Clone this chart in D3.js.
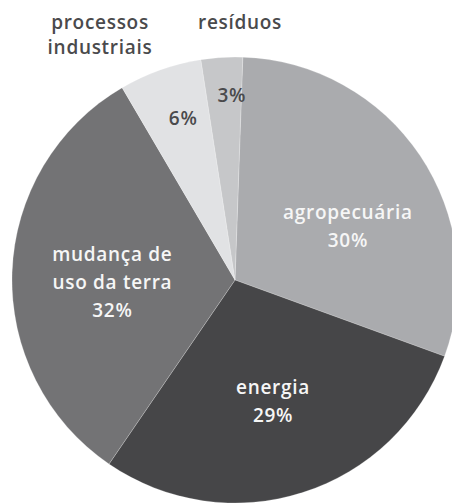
<!DOCTYPE html>
<html>
<head>
<meta charset="utf-8">
<script src="https://cdn.jsdelivr.net/npm/d3@7"></script>
<style>
  body { margin: 0; background: #fff; }
  svg text { font-family: "Open Sans", sans-serif; font-weight: 600; letter-spacing: 0.7px; }
</style>
</head>
<body>
<div id="chart"></div>
<script>
/**
 * DATA
 * */
const categories = ["agropecuária", "energia", "mudança de uso da terra", "processos industriais", "resíduos"];
const values = [30, 29, 32, 6, 3];
const colors = ["#aaabae", "#464648", "#737375", "#e1e2e4", "#c6c7c9"];
// inner label lines for each slice
const innerLabels = [
  ["agropecuária", "30%"],
  ["energia", "29%"],
  ["mudança de", "uso da terra", "32%"],
  ["6%"],
  ["3%"]
];
const textColors = ["#f6f6f6", "#f6f6f6", "#f6f6f6", "#4a4a4c", "#4a4a4c"];
// outside labels (only the two small slices have them)
const outerLabels = [null, null, null, ["processos", "industriais"], ["resíduos"]];

/**
 * CONSTANTS
 * */
const width = 452,
  height = 504,
  cx = 235,
  cy = 280,
  radius = 223;

const startAngle = 2 * Math.PI / 180;
const deg = Math.PI / 180;

const svg = d3.select("#chart")
  .append("svg")
  .attr("width", width)
  .attr("height", height);

const g = svg.append("g").attr("transform", `translate(${cx},${cy})`);

const pie = d3.pie()
  .sort(null)
  .value(d => d.value)
  .startAngle(startAngle)
  .endAngle(startAngle + 2 * Math.PI);

const data = categories.map((c, i) => ({ name: c, value: values[i], i }));
const arcs = pie(data);

const arc = d3.arc().innerRadius(0).outerRadius(radius);

g.selectAll("path.slice")
  .data(arcs)
  .join("path")
  .attr("class", "slice")
  .attr("d", arc)
  .attr("fill", d => colors[d.data.i])
  .attr("stroke", "#ffffff")
  .attr("stroke-opacity", 0.35)
  .attr("stroke-width", 0.6);

// label placement: radius fraction and angle nudge (degrees) off the slice middle
const labelR = [0.56, 0.57, 0.55, 0.76, 0.83];
const labelNudge = [8.7, 0.4, -3, 1.8, 2.4];
const lineH = 28;
const fontSize = 19;

arcs.forEach(a => {
  const i = a.data.i;
  const mid = (a.startAngle + a.endAngle) / 2 + labelNudge[i] * deg;
  const r = radius * labelR[i];
  const x = Math.sin(mid) * r;
  const y = -Math.cos(mid) * r;
  const lines = innerLabels[i];
  const t = g.append("text")
    .attr("text-anchor", "middle")
    .attr("fill", textColors[i])
    .attr("font-size", fontSize);
  lines.forEach((l, k) => {
    t.append("tspan")
      .attr("x", x)
      .attr("y", y + (k - (lines.length - 1) / 2) * lineH)
      .attr("dy", "0.35em")
      .text(l);
  });
});

// outside labels above the pie
const outerPos = { 3: [-135, -258], 4: [5, -258] };
arcs.forEach(a => {
  const i = a.data.i;
  if (!outerLabels[i]) return;
  const [x, y] = outerPos[i];
  const t = g.append("text")
    .attr("text-anchor", "middle")
    .attr("fill", "#4a4a4c")
    .attr("font-size", fontSize);
  outerLabels[i].forEach((l, k) => {
    t.append("tspan")
      .attr("x", x)
      .attr("y", y + k * 25)
      .attr("dy", "0.35em")
      .text(l);
  });
});
</script>
</body>
</html>
